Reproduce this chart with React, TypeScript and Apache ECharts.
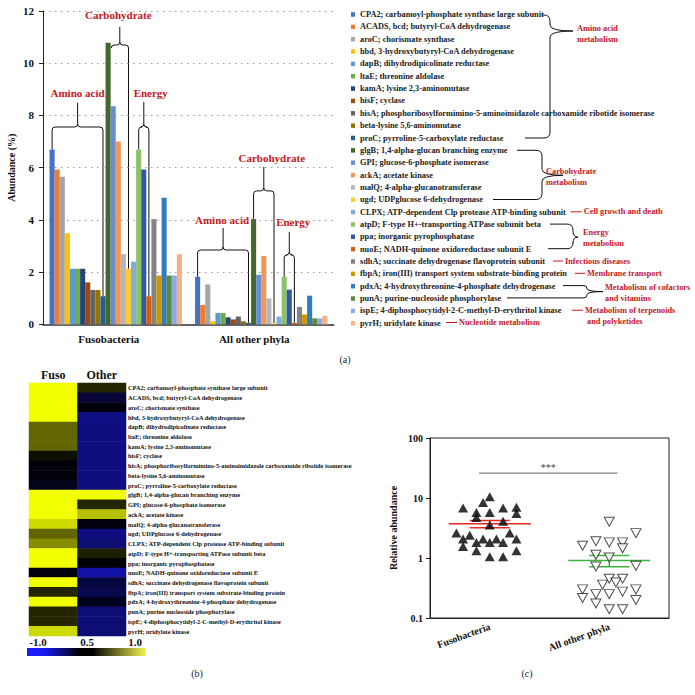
import React, { useEffect, useRef } from 'react';
import * as echarts from 'echarts';

// ---------- data ----------
const genes = [
  'CPA2; carbamoyl-phosphate synthase large subunit',
  'ACADS, bcd; butyryl-CoA dehydrogenase',
  'aroC; chorismate synthase',
  'hbd, 3-hydroxybutyryl-CoA dehydrogenase',
  'dapB; dihydrodipicolinate reductase',
  'ltaE; threonine aldolase',
  'kamA; lysine 2,3-aminomutase',
  'hisF; cyclase',
  'hisA; phosphoribosylformimino-5-aminoimidazole carboxamide ribotide isomerase',
  'beta-lysine 5,6-aminomutase',
  'proC; pyrroline-5-carboxylate reductase',
  'glgB; 1,4-alpha-glucan branching enzyme',
  'GPI; glucose-6-phosphate isomerase',
  'ackA; acetate kinase',
  'malQ; 4-alpha-glucanotransferase',
  'ugd; UDPglucose 6-dehydrogenase',
  'CLPX; ATP-dependent Clp protease ATP-binding subunit',
  'atpD; F-type H+-transporting ATPase subunit beta',
  'ppa; inorganic pyrophosphatase',
  'nuoE; NADH-quinone oxidoreductase subunit E',
  'sdhA; succinate dehydrogenase flavoprotein subunit',
  'fbpA; iron(III) transport system substrate-binding protein',
  'pdxA; 4-hydroxythreonine-4-phosphate dehydrogenase',
  'punA; purine-nucleoside phosphorylase',
  'ispE; 4-diphosphocytidyl-2-C-methyl-D-erythritol kinase',
  'pyrH; uridylate kinase',
];
const heatLabels = genes.map((g) => (g.startsWith('punA') ? 'punA; purine nucleoside phosphorylase' : g));

const phylaA = ['Fusobacteria', 'All other phyla'];
const fusoAbund = [6.7, 5.93, 5.65, 3.49, 2.13, 2.13, 2.13, 1.61, 1.32, 1.32, 1.08, 10.78, 8.35, 7.0, 2.69, 2.13, 2.4, 6.7, 5.93, 1.08, 4.03, 1.87, 4.85, 1.87, 1.87, 2.69];
const otherAbund = [1.82, 0.74, 1.53, 0.12, 0.44, 0.44, 0.27, 0.19, 0.3, 0.12, 0.06, 4.03, 1.9, 2.62, 1.0, 0.04, 0.3, 1.82, 1.33, 0.06, 0.67, 0.38, 1.1, 0.23, 0.23, 0.33];
const barColors = ['#4472c4', '#ed7d31', '#a5a5a5', '#ffc000', '#5b9bd5', '#70ad47', '#264478', '#9e480e', '#636363', '#997300', '#255e91', '#43682b', '#698ed0', '#f1975a', '#b7b7b7', '#ffcd33', '#7cafdd', '#8cc168', '#335aa1', '#d26012', '#848484', '#cc9a00', '#327dc2', '#5a8a39', '#8faadc', '#f4b183'];

const heatCols = ['Fuso', 'Other'];
const heatFuso = [1, 1, 1, 1, 0.4, 0.4, 0.4, 0.06, -0.04, -0.04, -0.1, 1, 1, 1, 0.85, 0.4, 0.55, 1, 1, -0.05, 1, 0.15, 1, 0.15, 0.15, 0.85];
const heatOther = [0.15, -0.22, -0.06, -0.52, -0.5, -0.5, -0.5, -0.5, -0.5, -0.5, -0.5, 1, 0.15, 0.75, -0.06, -0.5, -0.45, 0.12, -0.03, -0.65, -0.25, -0.3, -0.12, -0.45, -0.45, -0.45];
const colorbarTicks = ['-1.0', '0.5', '1.0'];

const phylaC = ['Fusobacteria', 'All other phyla'];
const fusoRel = [10.5, 8.4, 6.8, 6.8, 7.0, 5.75, 5.75, 5.5, 4.75, 3.55, 4.08, 2.6, 2.4, 2.6, 2.07, 2.07, 2.07, 2.07, 1.82, 1.82, 1.82, 1.55, 1.32, 1.32, 1.05, 1.05];
const fusoSlot = [0, -1, -4, 2, 4, -2, 0, 4, -2, 0, 2, -5, -3, 3, -4, -1, 1, 4, -2, 0, 2, -4, -2, 4, 0, 2];
const otherRel = [4.03, 2.6, 1.6, 1.9, 1.82, 1.82, 1.45, 1.13, 1.02, 0.72, 0.74, 0.45, 0.45, 0.36, 0.39, 0.3, 0.3, 0.25, 0.25, 0.275, 0.215, 0.2, 0.175, 0.14, 0.14];
const otherSlot = [0, 4, -4, -2, 0, 2, 2, -2, 0, -2, 4, 0, 2, -1, 1, -4, 4, -2, 0, 2, -4, 4, -2, 0, 2];
const sigLabel = '***';

// ---------- layout / style ----------
const SERIF = "'Liberation Serif', 'DejaVu Serif', serif";
const RED = '#c4161c';
const A = { left: 43, top: 11, width: 291, height: 313.4, max: 12 };
const CAT_GAP = 0.09;
const SLOT = 0.0558;
const LEG = { left: 351, top: 10, icon: 4, fontSize: 8.3, row: 12.3, firstY: 15 };
const legTextX = LEG.left + LEG.icon + 5;
const rowY = (i: number) => LEG.firstY + i * LEG.row;

const yPx = (v: number) => A.top + A.height * (1 - v / A.max);
const catW = A.width / 2;
const bw = (catW * (1 - CAT_GAP)) / genes.length;
const barCx = (cat: number, i: number) => A.left + cat * catW + (catW * CAT_GAP) / 2 + (i + 0.5) * bw;

const braces = [
  { cat: 0, from: 0, to: 10, level: 7.56, tip: 8.48, label: 'Amino acid', labelV: 8.86, dx: 0 },
  { cat: 0, from: 11, to: 15, level: 10.7, tip: 11.39, label: 'Carbohydrate', labelV: 11.83, dx: 0 },
  { cat: 0, from: 17, to: 19, level: 7.56, tip: 8.51, label: 'Energy', labelV: 8.86, dx: 7 },
  { cat: 1, from: 0, to: 10, level: 2.85, tip: 3.69, label: 'Amino acid', labelV: 4.0, dx: -1 },
  { cat: 1, from: 11, to: 15, level: 5.11, tip: 6.03, label: 'Carbohydrate', labelV: 6.37, dx: 8 },
  { cat: 1, from: 17, to: 19, level: 2.66, tip: 3.54, label: 'Energy', labelV: 3.92, dx: 4 },
];

// legend annotations: braces spanning rows, or single connector lines
const groupNotes = [
  { rows: [0, 10], starts: [538, 525], X: 550, tipX: 573, tipDy: 16, lines: ['Amino acid', 'metabolism'], x: 577, y: 28 },
  { rows: [11, 15], starts: [517, 493], X: 542, tipX: 563, tipDy: 25, lines: ['Carbohydrate', 'metabolism'], x: 546, y: 171 },
  { rows: [17, 19], starts: [550, 548], X: 573, tipX: 578, tipDy: 13, lines: ['Energy', 'metabolism'], x: 583, y: 232 },
  { rows: [22, 23], starts: [563, 507], X: 587, tipX: 603, tipDy: 6, lines: ['Metabolism of cofactors', 'and vitamins'], x: 605, y: 287 },
];
const singleNotes = [
  { row: 16, start: 567, len: 11, lines: ['Cell growth and death'] },
  { row: 20, start: 553, len: 10, lines: ['Infectious diseases'] },
  { row: 21, start: 575, len: 10, lines: ['Membrane transport'] },
  { row: 24, start: 572, len: 11, lines: ['Metabolism of terpenoids', 'and polyketides'] },
  { row: 25, start: 446, len: 11, lines: ['Nucleotide metabolism'] },
];

function f(n: number) {
  return n.toFixed(1);
}

function bracePath(b: any) {
  const vals = b.cat === 0 ? fusoAbund : otherAbund;
  const r = 3;
  const yb = yPx(b.level);
  const yt = yPx(b.tip);
  let x1 = barCx(b.cat, b.from);
  let x2 = barCx(b.cat, b.to);
  let y1 = yPx(vals[b.from]);
  let y2 = yPx(vals[b.to]);
  if (y1 < yb + r) {
    x1 += bw / 2 + 0.5;
    y1 = yb + r;
  }
  if (y2 < yb + r) {
    x2 -= bw / 2 + 0.5;
    y2 = yb + r;
  }
  const xm = (x1 + x2) / 2;
  return (
    `M${f(x1)},${f(y1)}L${f(x1)},${f(yb + r)}Q${f(x1)},${f(yb)} ${f(x1 + r)},${f(yb)}` +
    `L${f(xm - r)},${f(yb)}Q${f(xm)},${f(yb)} ${f(xm)},${f(yb - r)}L${f(xm)},${f(yt)}` +
    `M${f(xm)},${f(yb - r)}Q${f(xm)},${f(yb)} ${f(xm + r)},${f(yb)}L${f(x2 - r)},${f(yb)}` +
    `Q${f(x2)},${f(yb)} ${f(x2)},${f(yb + r)}L${f(x2)},${f(y2)}`
  );
}

function rightBrace(a: number, yT: number, b: number, yB: number, X: number, tipX: number, tipY: number) {
  const r = Math.min(6, (yB - yT) / 4);
  return (
    `M${f(a)},${f(yT)}L${f(X - r)},${f(yT)}Q${f(X)},${f(yT)} ${f(X)},${f(yT + r)}` +
    `L${f(X)},${f(tipY - r)}Q${f(X)},${f(tipY)} ${f(tipX)},${f(tipY)}` +
    `Q${f(X)},${f(tipY)} ${f(X)},${f(tipY + r)}L${f(X)},${f(yB - r)}` +
    `Q${f(X)},${f(yB)} ${f(X - r)},${f(yB)}L${f(b)},${f(yB)}`
  );
}

function stats(arr: number[]) {
  const n = arr.length;
  const mean = arr.reduce((a, b) => a + b, 0) / n;
  const sd = Math.sqrt(arr.reduce((a, b) => a + (b - mean) * (b - mean), 0) / (n - 1));
  const sem = sd / Math.sqrt(n);
  return [mean, mean - sem, mean + sem];
}

export default function App() {
  const ref = useRef<HTMLDivElement>(null);
  useEffect(() => {
    if (!ref.current) return;
    const chart = echarts.init(ref.current, null, { renderer: 'svg' });

    const ctx = document.createElement('canvas').getContext('2d') as CanvasRenderingContext2D;
    ctx.font = `bold ${LEG.fontSize}px ${SERIF}`;
    const textEnd = (row: number) => legTextX + ctx.measureText(genes[row]).width;

    const noteText = (t: string, x: number, y: number) => ({
      type: 'text', x, y, silent: true,
      style: { text: t, fill: RED, fontFamily: SERIF, fontWeight: 'bold', fontSize: 8.3, textAlign: 'left', textVerticalAlign: 'middle' },
    });

    const graphics: any[] = [];
    braces.forEach((b, k) => {
      const name = 'brace' + k;
      echarts.graphic.registerShape(name, echarts.graphic.extendPath(bracePath(b), {}));
      graphics.push({ type: name, x: 0, y: 0, silent: true, style: { stroke: '#111', fill: 'none', lineWidth: 1 } });
      const xm = (barCx(b.cat, b.from) + barCx(b.cat, b.to)) / 2;
      graphics.push({
        type: 'text', x: xm + b.dx, y: yPx(b.labelV), silent: true,
        style: { text: b.label, fill: RED, fontFamily: SERIF, fontWeight: 'bold', fontSize: 11, textAlign: 'center', textVerticalAlign: 'middle' },
      });
    });
    groupNotes.forEach((n, k) => {
      const yT = rowY(n.rows[0]);
      const yB = rowY(n.rows[1]);
      const a = Math.min(n.X - 8, Math.max(n.starts[0], textEnd(n.rows[0]) + 3));
      const b = Math.min(n.X - 8, Math.max(n.starts[1], textEnd(n.rows[1]) + 3));
      const name = 'gnote' + k;
      echarts.graphic.registerShape(name, echarts.graphic.extendPath(rightBrace(a, yT, b, yB, n.X, n.tipX, yT + n.tipDy), {}));
      graphics.push({ type: name, x: 0, y: 0, silent: true, style: { stroke: '#111', fill: 'none', lineWidth: 1 } });
      n.lines.forEach((t, j) => graphics.push(noteText(t, n.x, n.y + j * 11.5)));
    });
    singleNotes.forEach((n) => {
      const y = rowY(n.row);
      const s = Math.max(n.start, textEnd(n.row) + 4);
      graphics.push({ type: 'line', silent: true, shape: { x1: s, y1: y, x2: s + n.len, y2: y }, style: { stroke: RED, lineWidth: 1 } });
      n.lines.forEach((t, j) => graphics.push(noteText(t, s + n.len + (j === 0 ? 2 : 4), y + j * 11.5)));
    });

    // colorbar for heatmap
    graphics.push({
      type: 'rect', shape: { x: 27, y: 648, width: 119, height: 8 }, silent: true,
      style: {
        fill: new echarts.graphic.LinearGradient(0, 0, 1, 0, [
          { offset: 0, color: '#1c1cff' },
          { offset: 0.15, color: '#1a1af0' },
          { offset: 0.44, color: '#000000' },
          { offset: 0.55, color: '#000000' },
          { offset: 1, color: '#f4f450' },
        ]),
      },
    });
    const cbX = [38, 87, 135];
    colorbarTicks.forEach((t, i) => {
      graphics.push({
        type: 'text', x: cbX[i], y: 642, silent: true,
        style: { text: t, fill: '#111', fontFamily: SERIF, fontWeight: 'bold', fontSize: 11, textAlign: 'center', textVerticalAlign: 'middle' },
      });
    });
    [['(a)', 345, 359], ['(b)', 197, 673], ['(c)', 527, 673]].forEach(([t, x, y]) => {
      graphics.push({
        type: 'text', x, y, silent: true,
        style: { text: t, fill: '#222', fontFamily: SERIF, fontSize: 10, textAlign: 'center', textVerticalAlign: 'middle' },
      });
    });

    const barSeries = genes.map((g, i) => ({
      type: 'bar', name: g, xAxisIndex: 0, yAxisIndex: 0,
      data: [fusoAbund[i], otherAbund[i]],
      barGap: '0%', barCategoryGap: CAT_GAP * 100 + '%',
      itemStyle: { color: barColors[i] },
    }));

    const heatData: any[] = [];
    genes.forEach((_, i) => {
      heatData.push([0, i, heatFuso[i]]);
      heatData.push([1, i, heatOther[i]]);
    });

    const sFuso = stats(fusoRel);
    const sOther = stats(otherRel);
    const meanColors = ['#e8281e', '#3cb43c'];
    const boldText = { fontFamily: SERIF, fontWeight: 'bold', color: '#111' };

    const option: any = {
      animation: false,
      backgroundColor: '#fff',
      textStyle: { fontFamily: SERIF },
      grid: [
        { left: A.left, top: A.top, width: A.width, height: A.height },
        { left: 29, top: 383, width: 97, height: 253 },
        { left: 430, top: 438, width: 239, height: 180, show: true, borderColor: '#222', borderWidth: 1, backgroundColor: 'transparent' },
      ],
      legend: {
        data: genes, orient: 'vertical', left: LEG.left, top: LEG.top, itemWidth: LEG.icon, itemHeight: 4.5, itemGap: 3.35,
        icon: 'rect', selectedMode: false, padding: 0,
        textStyle: { fontSize: LEG.fontSize, lineHeight: 9, fontFamily: SERIF, fontWeight: 'bold', color: '#222' },
      },
      xAxis: [
        {
          type: 'category', gridIndex: 0, data: phylaA,
          axisLine: { lineStyle: { color: '#333', width: 1.5 } },
          axisTick: { length: 4, lineStyle: { color: '#333' } },
          axisLabel: { ...boldText, fontSize: 11, margin: 9, padding: [0, 14, 0, 0] },
        },
        {
          type: 'category', gridIndex: 1, data: heatCols, position: 'top',
          axisLine: { show: false }, axisTick: { show: false },
          axisLabel: { ...boldText, fontSize: 12, margin: 2 },
        },
        {
          type: 'category', gridIndex: 2, data: phylaC,
          axisLine: { lineStyle: { color: '#222' } },
          axisTick: { alignWithLabel: true, length: 5, lineStyle: { color: '#222' } },
          axisLabel: { ...boldText, fontSize: 10, rotate: 20, margin: 8 },
          splitLine: { show: false },
        },
        {
          type: 'value', gridIndex: 2, min: -0.5, max: 1.5, show: false,
          splitLine: { show: false }, axisLine: { show: false, onZero: false }, axisTick: { show: false }, axisLabel: { show: false },
        },
      ],
      yAxis: [
        {
          type: 'value', gridIndex: 0, min: 0, max: 12, interval: 2,
          name: 'Abundance (%)', nameLocation: 'middle', nameGap: 27,
          nameTextStyle: { ...boldText, fontSize: 10 },
          axisLine: { show: true, lineStyle: { color: '#222' } },
          axisTick: { show: true, length: 4, lineStyle: { color: '#222' } },
          axisLabel: { ...boldText, fontSize: 11, margin: 9 },
          splitLine: { lineStyle: { color: '#999', type: [1.5, 4.5] } },
        },
        {
          type: 'category', gridIndex: 1, data: heatLabels, inverse: true, position: 'right',
          axisLine: { show: false }, axisTick: { show: false },
          axisLabel: { ...boldText, fontSize: 6.3, margin: 2, interval: 0 },
        },
        {
          type: 'log', gridIndex: 2, min: 0.1, max: 100, logBase: 10,
          name: 'Relative abundance', nameLocation: 'middle', nameGap: 32,
          nameTextStyle: { ...boldText, fontSize: 10 },
          axisLine: { show: true, onZero: false, lineStyle: { color: '#222' } },
          axisTick: { show: true, length: 4, lineStyle: { color: '#222' } },
          axisLabel: { ...boldText, fontSize: 10, margin: 7 },
          splitLine: { show: false }, minorTick: { show: false },
        },
      ],
      visualMap: {
        type: 'continuous', show: false, min: -1, max: 1, seriesIndex: genes.length, dimension: 2,
        inRange: { color: ['#1c1cff', '#000000', '#f2ff00'] },
      },
      series: [
        ...barSeries,
        {
          type: 'heatmap', xAxisIndex: 1, yAxisIndex: 1, data: heatData,
          itemStyle: { borderWidth: 0 }, emphasis: { disabled: true },
        },
        {
          type: 'scatter', xAxisIndex: 3, yAxisIndex: 2, symbol: 'triangle', symbolSize: [10, 9],
          data: fusoRel.map((v, i) => [0 + fusoSlot[i] * SLOT, v]),
          itemStyle: { color: '#000' },
        },
        {
          type: 'scatter', xAxisIndex: 3, yAxisIndex: 2, symbol: 'path://M0,0L10,0L5,9Z', symbolSize: [10, 9],
          data: otherRel.map((v, i) => [1 + otherSlot[i] * SLOT, v]),
          itemStyle: { color: '#fff', borderColor: '#222', borderWidth: 1 },
        },
        {
          type: 'custom', xAxisIndex: 3, yAxisIndex: 2,
          dimensions: ['g', 'mean', 'lo', 'hi'],
          encode: { x: 0, y: [1, 2, 3] },
          data: [[0, ...sFuso], [1, ...sOther]],
          renderItem: (params: any, api: any) => {
            const g = api.value(0);
            const pm = api.coord([g, api.value(1)]);
            const pl = api.coord([g, api.value(2)]);
            const ph = api.coord([g, api.value(3)]);
            const style = { stroke: meanColors[params.dataIndex], lineWidth: 1.5 };
            return {
              type: 'group',
              children: [
                { type: 'line', shape: { x1: pm[0] - 41, y1: pm[1], x2: pm[0] + 41, y2: pm[1] }, style },
                { type: 'line', shape: { x1: pm[0] - 20, y1: ph[1], x2: pm[0] + 20, y2: ph[1] }, style },
                { type: 'line', shape: { x1: pm[0] - 20, y1: pl[1], x2: pm[0] + 20, y2: pl[1] }, style },
                { type: 'line', shape: { x1: pm[0], y1: ph[1], x2: pm[0], y2: pl[1] }, style },
              ],
            };
          },
        },
        {
          type: 'custom', xAxisIndex: 3, yAxisIndex: 2,
          dimensions: ['from', 'to', 'level'],
          encode: { x: [0, 1], y: 2 },
          data: [[-0.09, 1.07, 26]],
          renderItem: (params: any, api: any) => {
            const p1 = api.coord([api.value(0), api.value(2)]);
            const p2 = api.coord([api.value(1), api.value(2)]);
            return {
              type: 'group',
              children: [
                { type: 'line', shape: { x1: p1[0], y1: p1[1], x2: p2[0], y2: p2[1] }, style: { stroke: '#666', lineWidth: 1 } },
                {
                  type: 'text', x: (p1[0] + p2[0]) / 2, y: p1[1] - 1,
                  style: { text: sigLabel, fill: '#444', fontFamily: SERIF, fontSize: 10, textAlign: 'center', textVerticalAlign: 'bottom' },
                },
              ],
            };
          },
        },
      ],
      graphic: graphics,
    };
    chart.setOption(option);
    return () => chart.dispose();
  }, []);
  return (
    <div
      ref={ref}
      style={{ position: 'fixed', left: 0, top: 0, width: 695, height: 695, background: '#fff' }}
    />
  );
}
